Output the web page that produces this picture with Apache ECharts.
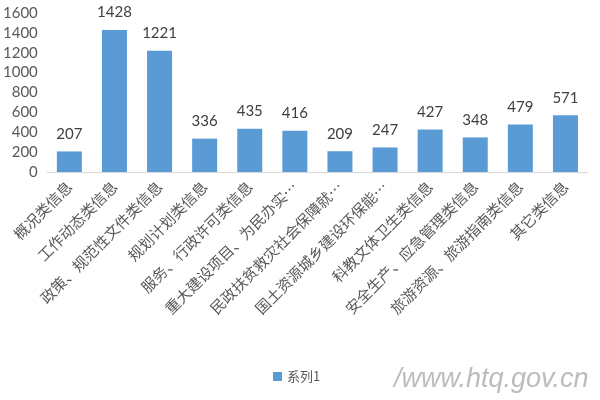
<!DOCTYPE html>
<html>
<head>
<meta charset="utf-8">
<script src="https://cdn.jsdelivr.net/npm/echarts@6/dist/echarts.min.js"></script>
<style>html,body{margin:0;padding:0;background:#fff;}#c{width:600px;height:400px;}</style>
</head>
<body>
<div id="c"></div>
<script>
var categories = ['概况类信息','工作动态类信息','政策、规范性文件类信息','规划计划类信息','服务、行政许可类信息','重大建设项目、为民办实…','民政扶贫救灾社会保障就…','国土资源城乡建设环保能…','科教文体卫生类信息','安全生产、应急管理类信息','旅游资源、旅游指南类信息','其它类信息'];
var values = [207,1428,1221,336,435,416,209,247,427,348,479,571];
var seriesName = '系列1';
var yTicks = [0,200,400,600,800,1000,1200,1400,1600];

var chart = echarts.init(document.getElementById('c'));
chart.setOption({
  animation: false,
  backgroundColor: '#fff',
  grid: {left: 46, right: 12, top: 13, bottom: 228},
  legend: {
    bottom: 12, left: 268,
    itemWidth: 9, itemHeight: 9, itemGap: 4,
    icon: 'rect',
    textStyle: {color: '#595959', fontSize: 13, fontFamily: 'Noto Sans CJK SC'},
    data: [seriesName]
  },
  xAxis: {
    type: 'category',
    data: categories,
    axisTick: {show: false},
    axisLine: {lineStyle: {color: '#d9d9d9', width: 1}},
    axisLabel: {interval: 0, rotate: 45, margin: 12, color: '#595959', fontSize: 15, fontFamily: 'Noto Sans CJK SC'}
  },
  yAxis: {
    type: 'value',
    min: yTicks[0], max: yTicks[yTicks.length-1], interval: 200,
    splitLine: {show: false},
    axisLine: {show: false},
    axisTick: {show: false},
    axisLabel: {color: '#595959', fontSize: 15, fontFamily: 'Lato', margin: 9, formatter: function (v) { return String(v); }}
  },
  series: [{
    name: seriesName,
    type: 'bar',
    data: values,
    barWidth: 25,
    itemStyle: {color: '#5B9BD5'},
    label: {show: true, position: 'top', distance: 10, color: '#404040', fontSize: 15, fontFamily: 'Lato'}
  }],
  graphic: [{
    type: 'text', left: 394, top: 366,
    style: {text: '/www.htq.gov.cn', fill: 'rgba(165,165,165,0.75)', font: 'italic 27px "Liberation Sans"'}
  }]
});
</script>
</body>
</html>
